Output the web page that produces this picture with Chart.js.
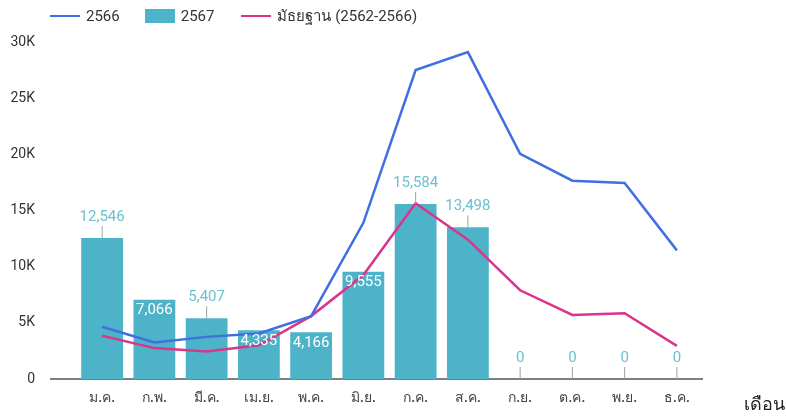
<!DOCTYPE html>
<html>
<head>
<meta charset="utf-8">
<script src="https://cdn.jsdelivr.net/npm/chart.js@4"></script>
<style>
  html, body { margin: 0; padding: 0; background: #fff; }
  #wrap { position: relative; width: 786px; height: 417px; }
  canvas { display: block; }
  #legend { position: absolute; left: 50px; top: 6px; height: 20px; display: flex; align-items: center;
            font-family: Roboto, 'Noto Sans', sans-serif; font-size: 15px; color: #333; }
  .li { display: flex; align-items: center; }
  .ln { width: 30px; height: 2.5px; margin-right: 6px; }
  .bx { width: 30px; height: 14px; margin-right: 6px; }
</style>
</head>
<body>
<div id="wrap">
  <canvas id="c" width="786" height="417"></canvas>
  <div id="legend"></div>
</div>
<script>
const months = ['ม.ค.', 'ก.พ.', 'มี.ค.', 'เม.ย.', 'พ.ค.', 'มิ.ย.', 'ก.ค.', 'ส.ค.', 'ก.ย.', 'ต.ค.', 'พ.ย.', 'ธ.ค.'];
const series2566 = [4650, 3250, 3750, 4050, 5600, 13900, 27500, 29100, 20050, 17650, 17450, 11450];
const series2567 = [12546, 7066, 5407, 4335, 4166, 9555, 15584, 13498, 0, 0, 0, 0];
const median2562_2566 = [3850, 2750, 2450, 3000, 5600, 9250, 15650, 12400, 7900, 5700, 5850, 2950];
const yTicks = [0, 5000, 10000, 15000, 20000, 25000, 30000];
const seriesNames = ['2566', '2567', 'มัธยฐาน (2562-2566)'];
const axisTitle = 'เดือน';

const BLUE = '#3f6fe1', TEAL = '#4db3c8', PINK = '#d9358b', LABEL_TEAL = '#6cc0cf';
// label placement style (inside bar or above with leader line)
const labelInside = [false, true, false, true, true, true, false, false, false, false, false, false];

const legendEl = document.getElementById('legend');
const legendDefs = [
  { name: seriesNames[0], kind: 'line', color: BLUE, gapAfter: 25 },
  { name: seriesNames[1], kind: 'box', color: TEAL, gapAfter: 27 },
  { name: seriesNames[2], kind: 'line', color: PINK, gapAfter: 0 }
];
legendDefs.forEach(d => {
  const item = document.createElement('div');
  item.className = 'li';
  item.style.marginRight = d.gapAfter + 'px';
  const sw = document.createElement('div');
  sw.className = d.kind === 'line' ? 'ln' : 'bx';
  sw.style.background = d.color;
  const t = document.createElement('span');
  t.textContent = d.name;
  item.appendChild(sw); item.appendChild(t);
  legendEl.appendChild(item);
});

const labelPlugin = {
  id: 'extras',
  beforeDatasetsDraw(chart) {
    const ctx = chart.ctx, ca = chart.chartArea, y = chart.scales.y;
    const y0 = y.getPixelForValue(0);
    ctx.save();
    ctx.strokeStyle = '#555';
    ctx.lineWidth = 1.5;
    ctx.beginPath();
    ctx.moveTo(50, y0);
    ctx.lineTo(ca.right, y0);
    ctx.stroke();
    ctx.restore();
  },
  afterDraw(chart) {
    const ctx = chart.ctx;
    const meta = chart.getDatasetMeta(0);
    ctx.save();
    ctx.font = '15px Roboto, "Noto Sans", sans-serif';
    ctx.textAlign = 'center';
    ctx.textBaseline = 'middle';
    meta.data.forEach((bar, i) => {
      const v = series2567[i];
      const txt = v.toLocaleString('en-US');
      const top = bar.y;
      if (labelInside[i] && v > 0) {
        ctx.fillStyle = '#ffffff';
        ctx.fillText(txt, bar.x, top + 11);
      } else {
        ctx.strokeStyle = '#a0a0a0';
        ctx.lineWidth = 1;
        ctx.beginPath();
        ctx.moveTo(bar.x, top);
        ctx.lineTo(bar.x, top - 12);
        ctx.stroke();
        ctx.fillStyle = LABEL_TEAL;
        ctx.fillText(txt, bar.x, top - 21);
      }
    });
    ctx.fillStyle = '#222';
    ctx.font = '18px "Noto Sans", Roboto, sans-serif';
    ctx.textAlign = 'left';
    ctx.fillText(axisTitle, 744, 405);
    ctx.restore();
  }
};

new Chart(document.getElementById('c'), {
  type: 'bar',
  data: {
    labels: months,
    datasets: [
      { type: 'bar', label: seriesNames[1], data: series2567, backgroundColor: TEAL,
        barPercentage: 0.8, categoryPercentage: 1.0, order: 2 },
      { type: 'line', label: seriesNames[0], data: series2566, borderColor: BLUE, backgroundColor: BLUE,
        borderWidth: 2.5, pointRadius: 0, tension: 0, order: 0 },
      { type: 'line', label: seriesNames[2], data: median2562_2566, borderColor: PINK, backgroundColor: PINK,
        borderWidth: 2.5, pointRadius: 0, tension: 0, order: 1 }
    ]
  },
  options: {
    responsive: false,
    animation: false,
    layout: { padding: { top: 42, right: 83, bottom: 0, left: 0 } },
    plugins: { legend: { display: false }, tooltip: { enabled: false } },
    scales: {
      x: {
        grid: { display: false, drawTicks: false },
        border: { display: false },
        ticks: { color: '#444', font: { family: 'Roboto, "Noto Sans", sans-serif', size: 14, weight: '500' }, padding: 11, maxRotation: 0 },
        afterFit(s) { s.height = 38; s.paddingLeft = 0; s.paddingRight = 0; }
      },
      y: {
        min: 0, max: 30000,
        afterBuildTicks(s) { s.ticks = yTicks.map(v => ({ value: v })); },
        grid: { display: false, drawTicks: false },
        border: { display: false },
        ticks: {
          color: '#333', padding: 41,
          font: { family: 'Roboto, "Noto Sans", sans-serif', size: 14 },
          callback: v => v === 0 ? '0' : (v / 1000) + 'K'
        },
        afterFit(s) { s.width = 76; s.paddingTop = 0; s.paddingBottom = 0; }
      }
    }
  },
  plugins: [labelPlugin]
});
</script>
</body>
</html>
